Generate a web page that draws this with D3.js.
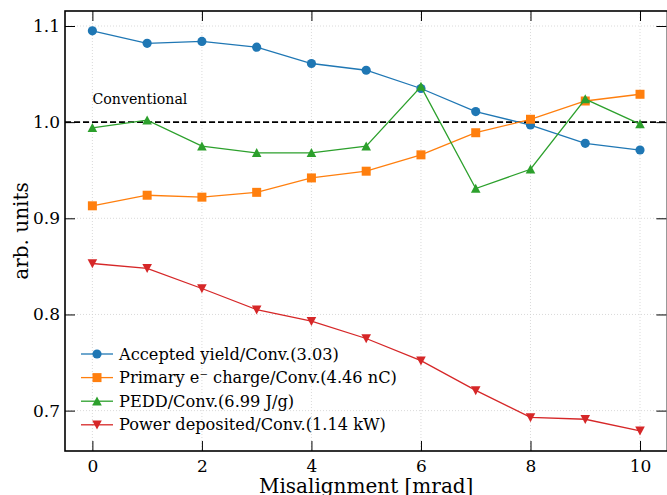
<!DOCTYPE html>
<html>
<head>
<meta charset="utf-8">
<title>Misalignment</title>
<script src="https://d3js.org/d3.v7.min.js"></script>
<style>
  body { margin: 0; background: #fff; }
  svg { display: block; font-family: "DejaVu Serif", serif; }
  .grid line { stroke: #d0d0d0; stroke-width: 0.8; stroke-dasharray: 1,2; }
</style>
</head>
<body>
<div id="chart"></div>
<script>
  const width = 667, height = 495;
  const margin = {top: 11, right: 0, bottom: 44, left: 65};

  const misalign = [0, 1, 2, 3, 4, 5, 6, 7, 8, 9, 10];
  const yieldRatio = [1.095, 1.082, 1.084, 1.078, 1.061, 1.054, 1.035, 1.011, 0.997, 0.978, 0.971];
  const chargeRatio = [0.913, 0.924, 0.922, 0.927, 0.942, 0.949, 0.966, 0.989, 1.003, 1.022, 1.029];
  const peddRatio = [0.994, 1.002, 0.975, 0.968, 0.968, 0.975, 1.037, 0.931, 0.951, 1.024, 0.998];
  const powerRatio = [0.853, 0.848, 0.827, 0.805, 0.793, 0.775, 0.752, 0.721, 0.693, 0.691, 0.679];
  const xTicks = [0, 2, 4, 6, 8, 10];
  const yTicks = [0.7, 0.8, 0.9, 1.0, 1.1];

  const series = [
    {name: "Accepted yield/Conv.(3.03)", values: yieldRatio, color: "#1f77b4", marker: "circle"},
    {name: "Primary e\u207B charge/Conv.(4.46 nC)", values: chargeRatio, color: "#ff7f0e", marker: "square"},
    {name: "PEDD/Conv.(6.99 J/g)", values: peddRatio, color: "#2ca02c", marker: "up"},
    {name: "Power deposited/Conv.(1.14 kW)", values: powerRatio, color: "#d62728", marker: "down"}
  ];

  const x = d3.scaleLinear().domain([-0.5, 10.5]).range([margin.left, width - margin.right + 0.4]);
  const y = d3.scaleLinear().domain([0.658, 1.1156]).range([height - margin.bottom, margin.top]);

  const svg = d3.select("#chart").append("svg")
    .attr("width", width)
    .attr("height", height);

  // grid
  const grid = svg.append("g").attr("class", "grid");
  grid.selectAll(".gx").data(xTicks).enter().append("line")
    .attr("x1", d => x(d)).attr("x2", d => x(d))
    .attr("y1", y.range()[1]).attr("y2", y.range()[0]);
  grid.selectAll(".gy").data(yTicks).enter().append("line")
    .attr("x1", x.range()[0]).attr("x2", x.range()[1])
    .attr("y1", d => y(d)).attr("y2", d => y(d));

  // reference line
  svg.append("line")
    .attr("x1", x.range()[0]).attr("x2", x.range()[1])
    .attr("y1", y(1)).attr("y2", y(1))
    .attr("stroke", "#000").attr("stroke-width", 1.6)
    .attr("stroke-dasharray", "6,3");

  svg.append("text")
    .attr("x", x(0)).attr("y", y(1.019))
    .attr("font-size", 14.2)
    .text("Conventional");

  function markerPath(type) {
    if (type === "circle") return d3.symbol(d3.symbolCircle, 66)();
    if (type === "square") return d3.symbol(d3.symbolSquare, 81)();
    if (type === "up") return "M0,-4.8L4.8,4.2L-4.8,4.2Z";
    return "M0,4.8L4.8,-4.2L-4.8,-4.2Z";
  }

  const line = d3.line().x((d, i) => x(misalign[i])).y(d => y(d));

  series.forEach(s => {
    svg.append("path")
      .datum(s.values)
      .attr("fill", "none")
      .attr("stroke", s.color)
      .attr("stroke-width", 1.3)
      .attr("d", line);
    svg.selectAll(null).data(s.values).enter().append("path")
      .attr("transform", (d, i) => `translate(${x(misalign[i])},${y(d)})`)
      .attr("d", markerPath(s.marker))
      .attr("fill", s.color);
  });

  // axes with inward ticks
  const xMinor = d3.range(-0.5, 10.51, 0.5);
  const yMinor = d3.range(0.66, 1.1151, 0.02);

  function tickAxis(axis, scale, major, minor, pos, fmt, pad) {
    const g = svg.append("g").attr("transform", pos);
    g.call(axis(scale).tickValues(minor).tickSize(-5).tickFormat(""));
    g.call(axis(scale).tickValues(major).tickSize(-10).tickPadding(pad).tickFormat(fmt));
    g.selectAll(".domain").remove();
    g.selectAll("line").attr("stroke", "#000").attr("stroke-width", 1);
    g.selectAll("text").attr("font-family", "DejaVu Serif, serif").attr("font-size", 17).attr("fill", "#000");
    return g;
  }

  const fx = d3.format("d"), fy = d3.format(".1f");
  const none = () => "";
  tickAxis(d3.axisBottom, x, xTicks, xMinor, `translate(0,${y.range()[0]})`, fx, 9);
  tickAxis(d3.axisTop, x, xTicks, xMinor, `translate(0,${y.range()[1]})`, none, 9);
  tickAxis(d3.axisLeft, y, yTicks, yMinor, `translate(${x.range()[0]},0)`, fy, 5);
  tickAxis(d3.axisRight, y, yTicks, yMinor, `translate(${x.range()[1] - 1},0)`, none, 5);

  svg.append("rect")
    .attr("x", x.range()[0]).attr("y", y.range()[1])
    .attr("width", x.range()[1] - x.range()[0])
    .attr("height", y.range()[0] - y.range()[1])
    .attr("fill", "none").attr("stroke", "#000").attr("stroke-width", 1.6);

  // labels
  svg.append("text")
    .attr("x", (x.range()[0] + x.range()[1]) / 2).attr("y", 493)
    .attr("text-anchor", "middle").attr("font-size", 20)
    .text("Misalignment [mrad]");
  svg.append("text")
    .attr("transform", `translate(28,${(y.range()[0] + y.range()[1]) / 2}) rotate(-90)`)
    .attr("text-anchor", "middle").attr("font-size", 20)
    .text("arb. units");

  // legend
  const legend = svg.append("g").attr("transform", "translate(81,354)");
  series.forEach((s, i) => {
    const row = legend.append("g").attr("transform", `translate(0,${i * 23.6})`);
    row.append("line").attr("x1", 0).attr("x2", 32).attr("y1", 0).attr("y2", 0)
      .attr("stroke", s.color).attr("stroke-width", 1.3);
    row.append("path").attr("transform", "translate(16,0)").attr("d", markerPath(s.marker)).attr("fill", s.color);
    row.append("text").attr("x", 38).attr("y", 5.5).attr("font-size", 16.2).text(s.name);
  });
</script>
</body>
</html>
